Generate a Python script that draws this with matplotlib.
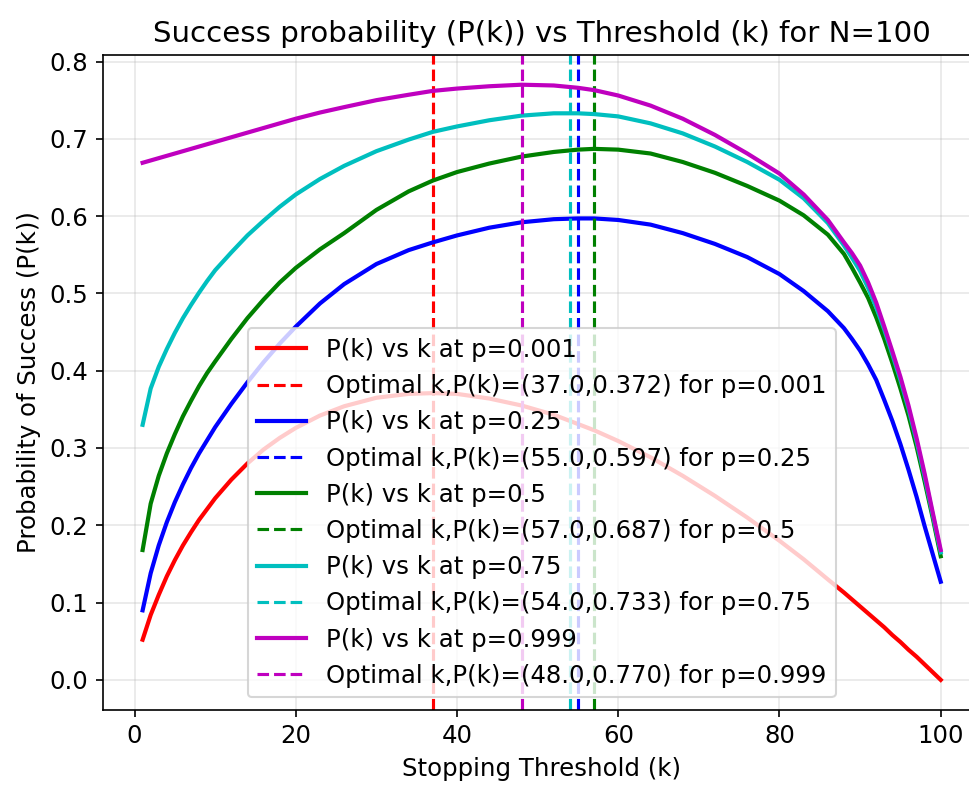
import matplotlib
matplotlib.use("Agg")
import matplotlib.pyplot as plt

plt.rcParams["font.size"] = 11.7

N = 100

# values
k_vals = [1, 2, 3, 4, 5, 6, 7, 8, 9, 10, 12, 14, 16, 18, 20, 23, 26, 30, 34,
          37, 40, 44, 48, 52, 55, 57, 60, 64, 68, 72, 76, 80, 83, 86, 88, 89,
          90, 91, 92, 93, 94, 95, 96, 97, 98, 99, 100]

p_labels = ["0.001", "0.25", "0.5", "0.75", "0.999"]
colors = ["r", "b", "g", "c", "m"]

pk_001 = [0.052, 0.084, 0.110, 0.134, 0.155, 0.174, 0.191, 0.207, 0.221, 0.235,
          0.259, 0.280, 0.298, 0.313, 0.326, 0.342, 0.354, 0.365, 0.370, 0.371,
          0.370, 0.364, 0.355, 0.343, 0.331, 0.323, 0.309, 0.288, 0.264, 0.238,
          0.210, 0.180, 0.156, 0.130, 0.113, 0.104, 0.095, 0.086, 0.077, 0.068,
          0.058, 0.049, 0.039, 0.030, 0.020, 0.010, 0.000]
pk_025 = [0.090, 0.138, 0.174, 0.204, 0.230, 0.253, 0.274, 0.293, 0.310, 0.327,
          0.357, 0.385, 0.411, 0.435, 0.457, 0.487, 0.512, 0.538, 0.556, 0.566,
          0.575, 0.585, 0.592, 0.596, 0.597, 0.597, 0.595, 0.589, 0.578, 0.564,
          0.547, 0.525, 0.503, 0.477, 0.455, 0.441, 0.426, 0.408, 0.388, 0.362,
          0.335, 0.305, 0.272, 0.237, 0.199, 0.163, 0.127]
pk_05 = [0.168, 0.228, 0.264, 0.293, 0.318, 0.341, 0.361, 0.380, 0.397, 0.412,
         0.441, 0.468, 0.492, 0.514, 0.533, 0.557, 0.578, 0.608, 0.632, 0.646,
         0.657, 0.668, 0.677, 0.683, 0.686, 0.687, 0.686, 0.681, 0.670, 0.656,
         0.639, 0.620, 0.601, 0.576, 0.551, 0.533, 0.514, 0.494, 0.469, 0.441,
         0.410, 0.377, 0.342, 0.302, 0.257, 0.210, 0.160]
pk_075 = [0.330, 0.377, 0.405, 0.428, 0.449, 0.468, 0.485, 0.501, 0.516, 0.530,
          0.553, 0.575, 0.594, 0.612, 0.628, 0.648, 0.665, 0.684, 0.699, 0.709,
          0.716, 0.724, 0.730, 0.733, 0.733, 0.732, 0.729, 0.720, 0.707, 0.690,
          0.670, 0.647, 0.623, 0.591, 0.562, 0.546, 0.529, 0.507, 0.482, 0.453,
          0.421, 0.388, 0.351, 0.309, 0.263, 0.214, 0.165]
pk_0999 = [0.669, 0.672, 0.675, 0.678, 0.681, 0.684, 0.687, 0.690, 0.693, 0.696,
           0.702, 0.708, 0.714, 0.720, 0.726, 0.734, 0.741, 0.750, 0.757, 0.762,
           0.765, 0.768, 0.770, 0.769, 0.766, 0.763, 0.756, 0.743, 0.726, 0.705,
           0.681, 0.655, 0.628, 0.595, 0.566, 0.552, 0.536, 0.514, 0.488, 0.457,
           0.425, 0.392, 0.355, 0.313, 0.267, 0.217, 0.168]

opt_k = [37.0, 55.0, 57.0, 54.0, 48.0]
opt_pk = [0.372, 0.597, 0.687, 0.733, 0.770]

curves = [pk_001, pk_025, pk_05, pk_075, pk_0999]

fig, ax = plt.subplots(figsize=(969 / 150, 785 / 150), dpi=150)
# the right spine of the original sits just past the image edge
fig.subplots_adjust(left=0.106, right=1.012, top=0.930, bottom=0.096)

for p, c, pk, kk, pp in zip(p_labels, colors, curves, opt_k, opt_pk):
    ax.plot(k_vals, pk, color=c, linewidth=2, label=f"P(k) vs k at p={p}")
    ax.axvline(kk, color=c, linestyle="--", linewidth=1.5,
               label=f"Optimal k,P(k)=({kk:.1f},{pp:.3f}) for p={p}")

ax.set_title(f"Success probability (P(k)) vs Threshold (k) for N={N}")
ax.set_xlabel("Stopping Threshold (k)")
ax.set_ylabel("Probability of Success (P(k))")
ax.grid(True, alpha=0.3)
ax.legend(loc="lower center")

fig.savefig("out.png", dpi=150)
